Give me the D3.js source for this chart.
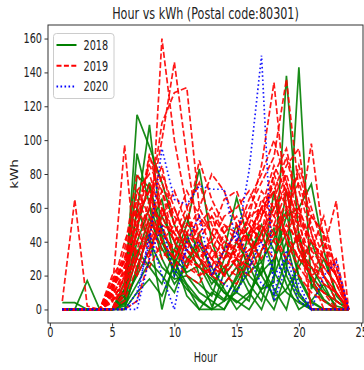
<!DOCTYPE html>
<html>
<head>
<meta charset="utf-8">
<script src="https://cdn.jsdelivr.net/npm/d3@7"></script>
<style>
  body { margin: 0; background: #fff; }
  svg { display: block; font-family: "DejaVu Sans", sans-serif; }
</style>
</head>
<body>
<div id="chart"></div>
<script>
// hourly kWh profiles, one row per day, hours 1..24
const hours = d3.range(1, 25);

const series2018 = [
  [0,0,0,0,0,8,115,96,75,50,35,25,18,10,4,10,22,30,45,20,5,0,0,0],
  [4,4,0,0,0,12,92,62,40,28,15,6,0,0,12,22,28,42,58,18,4,0,0,0],
  [0,0,17,0,0,4,79,72,48,30,22,26,12,6,18,32,46,22,10,4,0,0,0,0],
  [0,0,0,0,0,16,58,109,44,20,42,30,20,10,5,0,12,16,138,42,18,6,0,0],
  [0,0,0,0,0,5,32,54,36,24,14,0,0,22,40,26,10,0,22,143,12,30,10,0],
  [0,0,0,0,0,0,25,45,0,30,50,83,40,20,30,15,5,30,55,60,74,35,8,0],
  [0,0,0,0,0,10,40,60,30,15,25,45,20,35,66,40,20,70,25,8,0,0,0,0],
  [0,0,0,0,0,6,20,35,55,40,20,10,5,0,15,30,50,35,15,0,5,15,0,0],
  [0,0,0,0,0,2,15,28,20,10,30,38,25,12,0,8,25,12,0,30,20,10,5,0],
  [0,0,0,0,0,0,10,18,8,26,45,20,2,15,25,10,0,20,40,10,0,0,0,0],
  [0,0,0,0,0,4,48,75,40,22,12,5,0,5,10,30,20,8,30,45,15,5,0,0],
  [0,0,0,0,0,12,35,25,15,35,55,30,15,25,10,5,35,48,20,5,0,0,0,0],
  [0,0,0,0,0,8,60,40,25,18,20,15,8,30,50,20,12,25,70,35,25,12,2,0],
  [0,0,0,0,0,3,22,50,65,30,8,0,10,5,20,45,28,5,12,25,40,20,5,0]
];

const series2019 = [
  [5,65,2,0,0,0,5,30,60,40,25,35,30,20,40,55,60,45,30,20,10,5,0,0],
  [0,0,0,0,10,97,20,50,70,40,30,25,45,35,25,30,45,60,70,40,20,10,5,0],
  [0,0,0,0,15,25,40,30,160,100,60,35,20,30,50,40,55,75,40,30,25,20,10,0],
  [0,0,0,0,5,18,35,60,100,146,90,40,30,25,35,50,40,60,80,55,35,25,15,0],
  [0,0,0,0,0,20,45,60,110,128,131,60,45,35,40,45,60,70,90,60,40,30,20,0],
  [0,0,0,0,12,30,50,92,60,45,35,50,60,45,30,55,85,134,60,40,30,20,10,0],
  [0,0,0,0,8,22,70,80,55,40,50,88,65,50,45,60,75,90,136,70,45,25,15,0],
  [0,0,0,0,0,15,60,85,70,50,35,30,40,55,60,70,55,80,60,50,98,40,20,0],
  [0,0,0,0,6,10,30,55,40,30,45,60,80,70,50,40,65,55,45,30,20,35,64,0],
  [0,0,0,0,18,25,55,70,45,35,30,25,20,35,45,65,80,100,75,45,30,40,25,0],
  [0,0,0,0,0,5,25,45,80,60,40,30,25,20,30,45,50,40,60,75,50,30,20,0],
  [0,0,0,0,10,35,80,65,50,30,20,15,30,40,25,20,35,50,45,60,35,55,20,0],
  [0,0,0,0,4,20,45,90,75,55,45,40,35,30,40,55,45,65,85,95,45,20,5,0],
  [0,0,0,0,15,28,65,50,35,25,40,55,45,65,70,50,40,30,50,40,25,15,10,0],
  [0,0,0,0,8,14,35,40,55,70,50,45,55,35,30,25,45,60,55,35,20,25,30,0],
  [0,0,0,0,20,30,20,35,50,45,60,75,50,40,35,45,60,85,70,55,40,30,20,0],
  [0,0,0,0,5,12,50,75,60,45,30,20,25,45,55,40,30,45,65,80,55,45,25,0],
  [0,0,0,0,12,40,60,45,30,40,55,40,30,20,15,30,55,70,40,25,15,10,0,0],
  [0,0,0,0,0,8,40,65,85,50,35,25,20,25,30,35,50,40,30,45,0,0,0,0],
  [0,0,0,0,10,18,30,50,45,35,25,20,35,50,40,30,45,80,95,60,0,0,0,0],
  [0,0,0,0,6,25,45,35,55,60,40,30,20,15,25,40,60,50,70,35,20,0,0,0],
  [0,0,0,0,14,22,55,70,40,30,45,35,40,30,35,50,70,60,45,30,55,45,0,0],
  [0,0,0,0,0,10,30,25,40,50,70,55,35,25,20,35,40,55,75,50,30,15,10,0],
  [0,0,0,0,9,30,70,55,45,35,28,40,55,45,30,25,35,45,55,85,60,35,20,0]
];

const series2020 = [
  [0,0,0,0,0,0,10,40,95,65,62,73,71,71,40,82,150,5,25,5,0,0,0,0],
  [0,0,0,0,0,0,5,45,20,0,40,55,20,35,45,30,15,10,35,15,0,20,28,0],
  [0,0,0,0,0,0,0,30,50,20,35,40,25,15,10,25,40,20,30,10,0,0,0,0]
];

const years = ['2018', '2019', '2020'];
const yearColors = ['#008000', '#ff0000', '#0000ff'];
const yearDash = [null, '6,2.6', '1.6,2.6'];
const xTicks = [0, 5, 10, 15, 20, 25];
const yTicks = [0, 20, 40, 60, 80, 100, 120, 140, 160];

const W = 364, H = 370;
const margin = { top: 25, right: 1, bottom: 47, left: 48 };
const width = W - margin.left - margin.right;
const height = H - margin.top - margin.bottom;
const sx = 0.72; // the reference is squeezed horizontally

const svg = d3.select('#chart').append('svg')
  .attr('width', W)
  .attr('height', H);

const g = svg.append('g')
  .attr('transform', `translate(${margin.left},${margin.top})`);

const allSeries = [series2018, series2019, series2020];
const allValues = allSeries.flat(2);
const yMax = d3.max(allValues), yMin = d3.min(allValues);
const yPad = (yMax - yMin) * 0.05;
const xPad = (d3.max(hours) - d3.min(hours)) * 0.05;

const x = d3.scaleLinear()
  .domain([d3.min(hours) - xPad, d3.max(hours) + xPad])
  .range([0, width]);
const y = d3.scaleLinear()
  .domain([yMin - yPad, yMax + yPad])
  .range([height, 0]);

const line = d3.line()
  .x((d, i) => x(hours[i]))
  .y(d => y(d));

// lines, one group per year
allSeries.forEach((rows, k) => {
  g.append('g')
    .attr('class', 'year-' + years[k])
    .selectAll('path')
    .data(rows)
    .enter()
    .append('path')
    .attr('d', line)
    .attr('fill', 'none')
    .attr('stroke', yearColors[k])
    .attr('stroke-width', 1.7)
    .attr('stroke-dasharray', yearDash[k])
    .attr('stroke-opacity', 0.9);
});

// axes
const xAxis = g.append('g')
  .attr('transform', `translate(0,${height})`)
  .call(d3.axisBottom(x).tickValues(xTicks).tickSize(3.5).tickSizeOuter(0).tickPadding(1));
const yAxis = g.append('g')
  .call(d3.axisLeft(y).tickValues(yTicks).tickSize(3.5).tickSizeOuter(0).tickPadding(2.5));

[xAxis, yAxis].forEach(ax => {
  ax.select('.domain').remove();
  ax.selectAll('line').attr('stroke', '#333').attr('stroke-width', 1);
  ax.selectAll('text')
    .attr('font-size', 13.5)
    .attr('fill', '#222')
    .attr('font-family', '"DejaVu Sans", sans-serif')
    .each(function () {
      const t = d3.select(this);
      const tx = +t.attr('x') || 0;
      t.attr('x', tx / sx).attr('transform', `scale(${sx},1)`);
    });
});

// frame
g.append('rect')
  .attr('width', width)
  .attr('height', height)
  .attr('fill', 'none')
  .attr('stroke', '#333')
  .attr('stroke-width', 1);

// title and axis labels
svg.append('text')
  .attr('transform', `translate(${margin.left + width / 2},19) scale(0.7,1)`)
  .attr('text-anchor', 'middle')
  .attr('font-size', 16)
  .attr('fill', '#222')
  .text('Hour vs kWh (Postal code:80301)');

svg.append('text')
  .attr('transform', `translate(${margin.left + width / 2},362) scale(${sx},1)`)
  .attr('text-anchor', 'middle')
  .attr('font-size', 13.5)
  .attr('fill', '#222')
  .text('Hour');

svg.append('text')
  .attr('transform', `translate(17.5,${margin.top + height / 2}) scale(${sx},1) rotate(-90)`)
  .attr('text-anchor', 'middle')
  .attr('font-size', 13.5)
  .attr('fill', '#222')
  .text('kWh');

// legend
const legend = svg.append('g').attr('transform', 'translate(53.5,33.5)');
legend.append('rect')
  .attr('width', 60.5)
  .attr('height', 65)
  .attr('rx', 3)
  .attr('fill', '#fff')
  .attr('fill-opacity', 0.8)
  .attr('stroke', '#ccc')
  .attr('stroke-width', 1);

const items = legend.selectAll('.item')
  .data(years)
  .enter()
  .append('g')
  .attr('class', 'item')
  .attr('transform', (d, i) => `translate(0,${11.5 + i * 20.8})`);

items.append('line')
  .attr('x1', 3)
  .attr('x2', 23)
  .attr('stroke', (d, i) => yearColors[i])
  .attr('stroke-width', 2)
  .attr('stroke-dasharray', (d, i) => yearDash[i] ? (i === 1 ? '5,2.4' : '1.6,2.4') : null);

items.append('text')
  .attr('transform', `translate(30,4.8) scale(${sx},1)`)
  .attr('font-size', 13.5)
  .attr('fill', '#222')
  .text(d => d);
</script>
</body>
</html>
